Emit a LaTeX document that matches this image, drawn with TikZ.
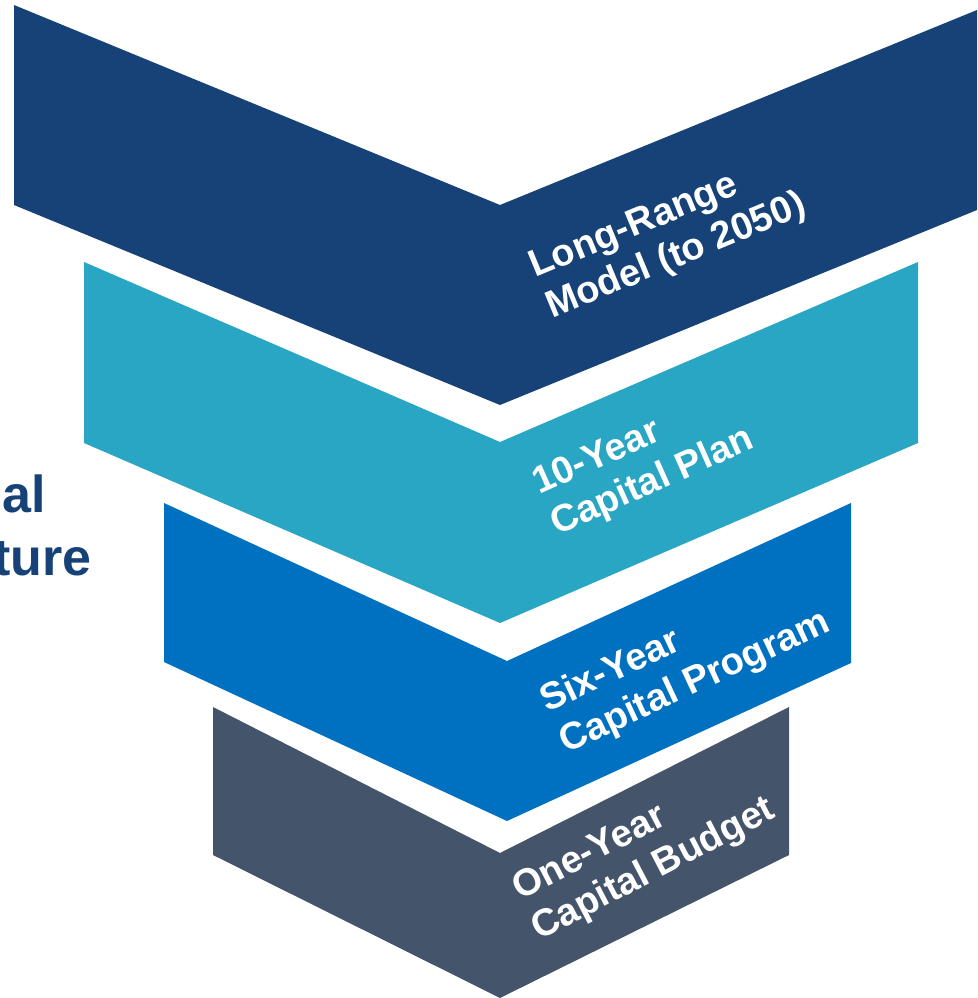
\documentclass[tikz,border=0pt]{standalone}
\usepackage{fontspec}
\setmainfont{Liberation Sans}
\definecolor{navy}{HTML}{164278}
\definecolor{teal}{HTML}{28A6C4}
\definecolor{midblue}{HTML}{0070C0}
\definecolor{slate}{HTML}{44546A}
\begin{document}
\begin{tikzpicture}[x=1pt,y=-1pt,
  lbl/.style={text=white,font=\fontsize{38}{45}\selectfont\bfseries,inner sep=0pt,anchor=base west},
  side/.style={text=navy,font=\fontsize{52}{62}\selectfont\bfseries,inner sep=0pt,anchor=base east}]
\useasboundingbox (0,0) rectangle (977,998);
% chevrons
\fill[navy] (14,5) -- (500,205) -- (977,10) -- (977,210) -- (500,405) -- (14,205) -- cycle;
\fill[teal] (84,262) -- (500,442) -- (918,262) -- (918,443) -- (500,623) -- (84,443) -- cycle;
\fill[midblue] (164,503) -- (507,661) -- (851,503) -- (851,663) -- (507,821) -- (164,662) -- cycle;
\fill[slate] (213,707) -- (500,853) -- (789,707) -- (789,855) -- (500,998) -- (213,855) -- cycle;
% labels
\node[lbl,rotate=22.5] (l1a) at (535,278) {Long-Range};
\node[lbl,rotate=22.5] (l1b) at (552,319) {Model (to 2050)};
\node[lbl,rotate=24] (l2a) at (539,495) {10-Year};
\node[lbl,rotate=24] (l2b) at (557,536) {Capital Plan};
\node[lbl,rotate=25] (l3a) at (547,713) {Six-Year};
\node[lbl,rotate=25] (l3b) at (566,754) {Capital Program};
\node[lbl,rotate=27.5] (l4a) at (520,901) {One-Year};
\node[lbl,rotate=27.5] (l4b) at (539,941) {Capital Budget};
% cropped side text
\node[side] (s1) at (46,512) {al};
\node[side] (s2) at (92,575) {ture};
\end{tikzpicture}
\end{document}
